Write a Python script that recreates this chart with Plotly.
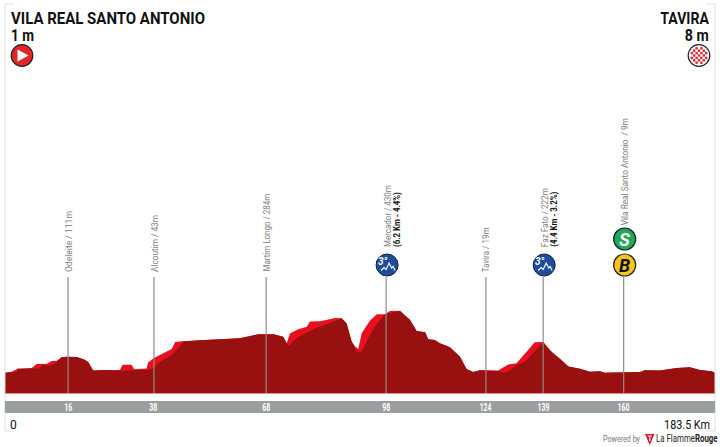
import json
import plotly.graph_objects as go

W, H = 720, 447
FONT = "Roboto, sans-serif"

# Profile: km and metres
top_km = [0,1.7,3.4,6.9,8.2,10.8,12.1,13.4,14.6,16.0,18.5,20.3,21.5,22.8,24.6,26.3,29.7,30.4,32.7,33.4,36.6,37.0,38.3,40.9,43.1,44.0,45.7,50.4,60.7,65.5,69.4,71.9,72.8,73.7,75.8,78.0,78.8,81.4,83.6,85.3,87.0,88.3,89.6,90.5,91.3,92.2,94.3,96.1,98.2,99.5,102.1,104.7,106.4,108.6,109.4,111.1,112.4,115.0,117.6,119.3,121.0,122.8,127.5,128.3,130.1,132.2,135.2,136.9,139.1,140.8,141.7,143.8,145.6,148.6,151.2,153.8,155.0,164.1,165.4,169.3,173.6,177.0,179.6,182.6,183.5]
top_m = [9,16,38,41,68,70,88,90,113,117,115,99,81,23,25,27,27,63,63,32,38,77,104,140,169,216,221,228,241,268,268,252,207,275,302,320,354,356,369,378,376,342,219,185,169,275,360,403,403,426,428,365,291,282,234,230,207,180,117,34,14,25,23,38,65,72,162,214,216,162,140,95,50,36,16,18,9,14,25,23,41,45,27,18,9]
dark_km = [0,3.0,3.4,7.3,8.6,9.9,11.6,13.4,14.6,16.0,18.5,20.3,21.5,22.8,24.6,26.3,29.7,30.6,32.7,33.6,36.6,38.3,40.1,43.1,45.7,46.1,50.4,60.7,65.5,69.4,71.9,73.2,75.8,78.0,80.6,83.6,87.0,88.3,89.6,90.9,92.2,94.3,96.1,98.2,102.1,104.7,106.4,108.6,109.4,111.1,112.4,115.0,117.6,119.3,121.0,122.8,127.5,129.2,130.5,132.2,134.4,138.7,139.1,140.8,141.7,143.8,145.6,148.6,151.2,153.8,155.0,164.1,165.4,169.3,173.6,177.0,179.6,182.6,183.5]
dark_m = [9,14,32,38,38,61,56,79,113,117,115,99,81,23,25,27,20,20,25,27,27,38,83,128,203,219,228,241,268,268,252,189,252,279,315,342,376,342,219,151,151,264,338,403,426,365,291,282,234,230,207,180,117,34,14,25,20,9,23,61,83,203,216,162,140,95,50,36,16,18,9,14,25,23,41,45,27,18,9]

# Way-points
pt_km = [16.3, 38.5, 67.5, 98.5, 124.3, 139.1, 159.9]
pt_tick = ["16", "38", "68", "98", "124", "139", "160"]
pt_name = ["Odeleite / 111m", "Alcoutim / 43m", "Martim Longo / 284m", "Mercador / 430m", "Tavira / 19m", "Faz Fato / 222m", "Vila Real Santo Antonio  / 9m"]
pt_sub = ["", "", "", "(6.2 Km - 4.4%)", "", "(4.4 Km - 3.2%)", ""]

start_name, start_alt = "VILA REAL SANTO ANTONIO", "1 m"
end_name, end_alt = "TAVIRA", "8 m"
dist_start, dist_end = "0", "183.5 Km"

X_PX0, X_PER_KM = 5, 3.869
Y_PX0, Y_PER_M = 374, 0.148
BASE_M = (Y_PX0 - 393) / Y_PER_M
xrange_km = [-X_PX0 / X_PER_KM, (W - X_PX0) / X_PER_KM]
yrange_m = [(Y_PX0 - H) / Y_PER_M, Y_PX0 / Y_PER_M]

px = lambda x: x / W
py = lambda y: 1 - y / H

def km_px(k):
    return X_PX0 + k * X_PER_KM

shapes, ann = [], []

def rect(x0, y0, x1, y1, color, layer="above"):
    shapes.append(dict(type="rect", xref="paper", yref="paper", x0=px(x0), x1=px(x1), y0=py(y0), y1=py(y1),
                       fillcolor=color, line_width=0, layer=layer))

def hvline(x0, y0, x1, y1, color, w=1, layer="above"):
    shapes.append(dict(type="line", xref="paper", yref="paper", x0=px(x0), x1=px(x1), y0=py(y0), y1=py(y1),
                       line=dict(color=color, width=w), layer=layer))

def circle(cx, cy, r, fill, line="#1a1a1a", lw=1.2):
    shapes.append(dict(type="circle", xref="paper", yref="paper", x0=px(cx - r), x1=px(cx + r), y0=py(cy + r), y1=py(cy - r),
                       fillcolor=fill, line=dict(color=line, width=lw), layer="above"))

def poly(points, fill=None, line=None, lw=1, close=True):
    d = "M " + " L ".join(f"{px(a):.5f},{py(b):.5f}" for a, b in points) + (" Z" if close else "")
    shapes.append(dict(type="path", xref="paper", yref="paper", path=d, fillcolor=fill if fill else "rgba(0,0,0,0)",
                       line=dict(color=line if line else "rgba(0,0,0,0)", width=lw), layer="above"))

def text(x, y, s, size, color="#111", anchor="left", bold=False, family=FONT, italic=False, height=None):
    t = f"<b>{s}</b>" if bold else s
    t = f"<i>{t}</i>" if italic else t
    a = dict(xref="paper", yref="paper", x=px(x), y=py(y), text=t, showarrow=False, xanchor=anchor, yanchor="middle",
             font=dict(size=size, color=color, family=family), borderpad=0, borderwidth=0)
    if height:
        a["height"] = height
    ann.append(a)

# frame lines
FRAME = "#dedede"
for xx in (5, 715):
    hvline(xx, 4, xx, 431, FRAME, 1)
hvline(5, 4, 14, 4, FRAME, 1)
hvline(706, 4, 715, 4, FRAME, 1)
hvline(5, 431, 13, 431, FRAME, 1)
hvline(706, 431, 715, 431, FRAME, 1)

# grey band and base line
rect(5, 401, 715, 413, "#9b9e9f")
hvline(5, 393.5, 715, 393.5, "#f28a80", 1)

# way-point lines and labels
for k, tick in zip(pt_km, pt_tick):
    x = km_px(k)
    hvline(x, 277, x, 393, "#8c8c8c", 1.2)
    text(x, 407, tick, 11, "#ffffff", "center", bold=True)

def vlabel(x, bottom, s, size=9.5, color="#808080", bold=False):
    ann.append(dict(xref="paper", yref="paper", x=px(x), y=py(bottom), text=f"<b>{s}</b>" if bold else s, showarrow=False,
                    xanchor="center", yanchor="bottom", textangle=-90, font=dict(size=size, color=color, family=FONT),
                    borderpad=0))

xs = [km_px(k) for k in pt_km]
vlabel(xs[0], 273, pt_name[0])
vlabel(xs[1], 273, pt_name[1])
vlabel(xs[2], 273, pt_name[2])
vlabel(xs[3] + 1, 248, pt_name[3])
vlabel(xs[3] + 11, 248, pt_sub[3], color="#111", bold=True)
vlabel(xs[4], 273, pt_name[4])
vlabel(xs[5] + 1.5, 248, pt_name[5])
vlabel(xs[5] + 10.5, 248, pt_sub[5], color="#111", bold=True)
vlabel(xs[6] + 1, 226, pt_name[6])

# mountain icons
for i in (3, 5):
    cx = xs[i] + 1
    circle(cx, 265, 11, "#1d4e9e", "#12233f", 1)
    text(cx - 4, 261.5, "3°", 10, "#ffffff", "center", bold=True, italic=True)
    poly([(cx - 6, 270.5), (cx - 3, 267.5), (cx - 1, 269.5), (cx + 2, 263), (cx + 4.5, 268), (cx + 6, 266.5), (cx + 8, 270.5)],
         None, "#ffffff", 1.1, close=False)

# sprint and bonus icons
icon_x = xs[6] + 1
circle(icon_x, 239, 11, "#1fa855", "#123", 1.2)
text(icon_x, 239.5, "S", 18, "#ffffff", "center", bold=True, italic=True)
circle(icon_x, 265, 11, "#f6c51e", "#222", 1.2)
text(icon_x, 265.5, "B", 18, "#111111", "center", bold=True, italic=True)

# start icon
circle(22, 55.5, 10.8, "#e0262b", "#222", 1.2)
poly([(17.5, 49.5), (28.5, 55.5), (17.5, 61.5)], "#ffffff")

# finish icon
circle(699, 55.5, 10.8, "#ffffff", "#222", 1.2)
for row in range(-4, 5):
    for col in range(-4, 5):
        if (row + col) % 2 == 0:
            cx, cy = 699 + col * 2.4, 55.5 + row * 2.4
            if (col * 2.4) ** 2 + (row * 2.4) ** 2 < 9.4 ** 2:
                rect(cx - 1.2, cy - 1.2, cx + 1.2, cy + 1.2, "#e0262b")

# titles
text(11, 18, start_name, 17, bold=True, height=16)
text(11, 35.5, start_alt, 17, bold=True, height=16)
text(709, 18, end_name, 17, anchor="right", bold=True, height=16)
text(709, 35.5, end_alt, 17, anchor="right", bold=True, height=16)
text(10, 424.5, dist_start, 12, "#111")
text(710, 424.5, dist_end, 12, "#111", "right")

# footer
text(603, 438.5, "Powered by", 8.5, "#777777")
poly([(645, 434), (654.5, 434), (649.7, 445)], "#d8102a")
poly([(647.5, 435.5), (652, 435.5), (652, 436.5), (650.3, 436.5), (650.3, 441), (649.2, 441), (649.2, 436.5), (647.5, 436.5)], "#ffffff")
text(656, 438.5, "La Flamme<b>Rouge</b>", 10, "#222222")

# condensed typeface look: text -> [width in px, fixed edge]
text_widths = {
    start_name: [194, "left"], start_alt: [23, "left"], end_name: [49, "right"], end_alt: [24, "right"],
    dist_end: [46, "right"], "Powered by": [37, "left"], "La FlammeRouge": [62, "left"],
    "16": [8, "center"], "38": [8, "center"], "68": [8, "center"], "98": [8, "center"],
    "124": [12, "center"], "139": [12, "center"], "160": [12, "center"],
    pt_name[0]: [61, "left"], pt_name[1]: [57, "left"], pt_name[2]: [78, "left"], pt_name[3]: [62, "left"],
    pt_name[4]: [45, "left"], pt_name[5]: [59, "left"], pt_name[6]: [107, "left"],
    pt_sub[3]: [55, "left"], pt_sub[5]: [55, "left"],
}
post = """
var m = %s;
document.querySelectorAll('.annotation-text').forEach(function (t) {
  var e = m[t.textContent];
  if (!e) return;
  var k = e[0] / t.getBBox().width;
  t.style.transformBox = 'fill-box';
  t.style.transformOrigin = e[1] + ' center';
  t.style.transform = 'scaleX(' + k + ')';
});
""" % json.dumps(text_widths)

fig = go.Figure()
fig.add_trace(go.Scatter(x=[top_km[0]] + top_km + [top_km[-1]], y=[BASE_M] + top_m + [BASE_M], fill="toself",
                         fillcolor="#e6101f", mode="none", hoverinfo="skip"))
fig.add_trace(go.Scatter(x=[dark_km[0]] + dark_km + [dark_km[-1]], y=[BASE_M] + dark_m + [BASE_M], fill="toself",
                         fillcolor="#98100f", mode="none", hoverinfo="skip"))

fig.update_layout(
    width=W, height=H, margin=dict(l=0, r=0, t=0, b=0, pad=0), autosize=False,
    paper_bgcolor="#ffffff", plot_bgcolor="#ffffff", showlegend=False,
    xaxis=dict(range=xrange_km, visible=False, fixedrange=True),
    yaxis=dict(range=yrange_m, visible=False, fixedrange=True),
    shapes=shapes, annotations=ann,
)
fig.write_html("out.html", config=dict(displayModeBar=False),
               post_script="document.body.style.margin='0';document.body.style.overflow='hidden';" + post)
